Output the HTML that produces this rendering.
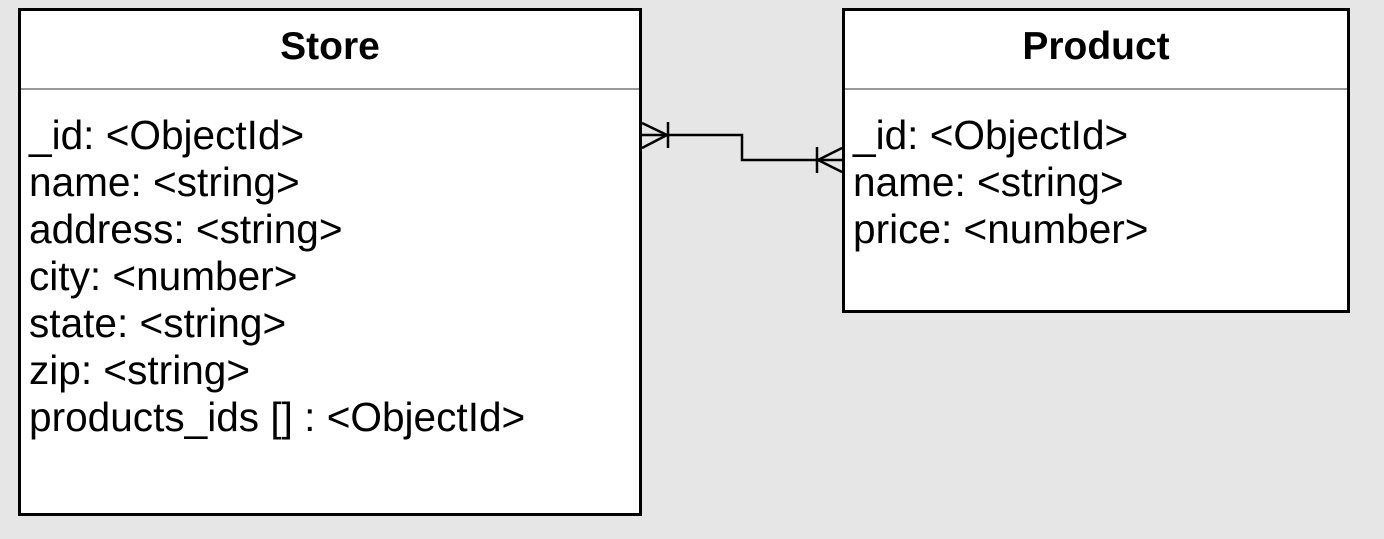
<!DOCTYPE html>
<html><head><meta charset="utf-8"><style>
html,body{margin:0;padding:0;background:#e6e6e6;}
svg{display:block;}
text{font-family:"Liberation Sans",Arial,sans-serif;fill:#000;}
</style></head><body>
<svg width="1384" height="539" viewBox="0 0 1384 539" xmlns="http://www.w3.org/2000/svg">
<rect x="0" y="0" width="1384" height="539" fill="#e6e6e6"/>
<!-- Store -->
<rect x="19.5" y="9.5" width="621" height="505" fill="#fff" stroke="#000" stroke-width="3"/>
<line x1="21" y1="89" x2="639" y2="89" stroke="#999" stroke-width="2"/>
<text x="330" y="59" font-size="39" font-weight="bold" text-anchor="middle">Store</text>
<g font-size="40.6">
<text x="29" y="149">_id: &lt;ObjectId&gt;</text>
<text x="29" y="196">name: &lt;string&gt;</text>
<text x="29" y="243">address: &lt;string&gt;</text>
<text x="29" y="290">city: &lt;number&gt;</text>
<text x="29" y="337">state: &lt;string&gt;</text>
<text x="29" y="384">zip: &lt;string&gt;</text>
<text x="29" y="431">products_ids [] : &lt;ObjectId&gt;</text>
</g>
<!-- Product -->
<rect x="843.5" y="9.5" width="505" height="302" fill="#fff" stroke="#000" stroke-width="3"/>
<line x1="845" y1="89" x2="1347" y2="89" stroke="#999" stroke-width="2"/>
<text x="1096" y="59" font-size="39" font-weight="bold" text-anchor="middle">Product</text>
<g font-size="40.6">
<text x="853" y="149">_id: &lt;ObjectId&gt;</text>
<text x="853" y="196">name: &lt;string&gt;</text>
<text x="853" y="243">price: &lt;number&gt;</text>
</g>
<!-- connector -->
<g stroke="#000" stroke-width="2.5" fill="none">
<polyline points="642,135 742,135 742,160 842,160"/>
<line x1="642" y1="123" x2="667" y2="135"/>
<line x1="642" y1="148" x2="667" y2="135"/>
<line x1="668" y1="122" x2="668" y2="148"/>
<line x1="842" y1="148" x2="818" y2="160"/>
<line x1="842" y1="172" x2="818" y2="160"/>
<line x1="817" y1="147" x2="817" y2="173"/>
</g>
</svg>
</body></html>
